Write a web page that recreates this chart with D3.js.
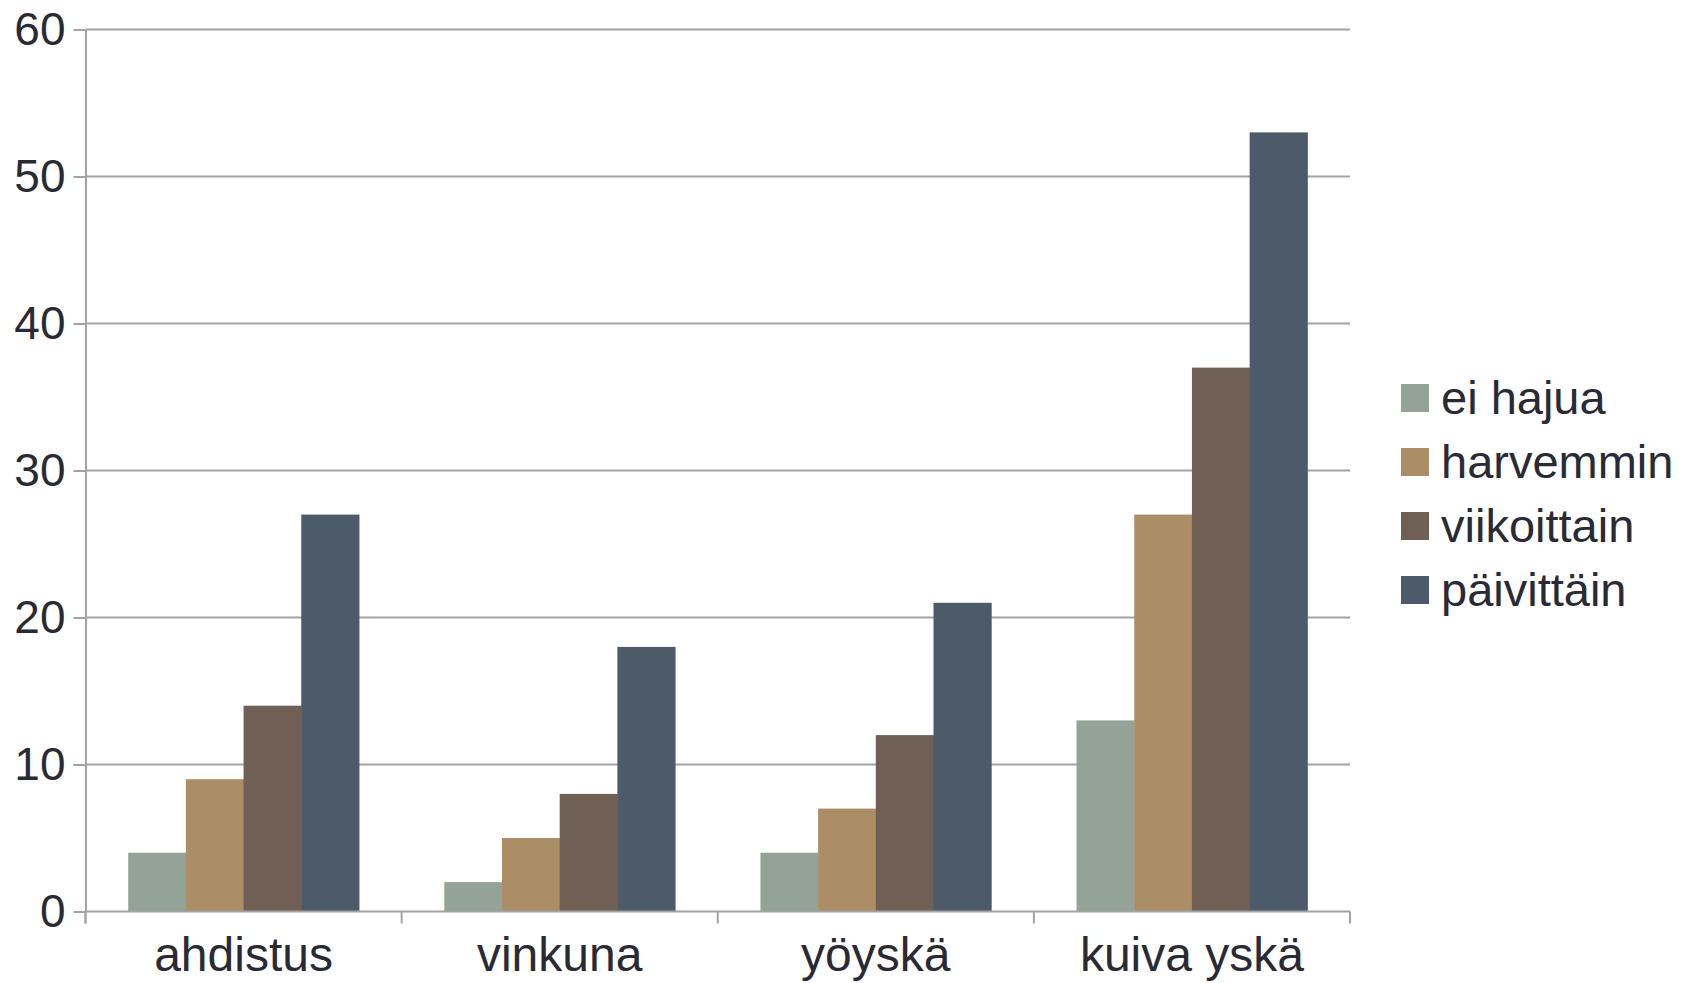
<!DOCTYPE html>
<html>
<head>
    <title>Oireet</title>
</head>
<meta charset="utf-8">
<style>
body {
    margin: 0;
    background: #fff;
    font-family: "Liberation Sans", Arial, sans-serif;
}

.grid line,
.axis path,
.axis line {
    fill: none;
    stroke: #a3a3a3;
    stroke-width: 2px;
}

.axis text,
.legend text {
    fill: #2a2a34;
    font-size: 46px;
}

.axis text.xlabel {
    font-size: 48px;
}

.legend text {
    font-size: 47px;
}
</style>
<body>
    <script src="https://cdn.jsdelivr.net/npm/d3@7"></script>
    <script>
    // data
    var categories = ["ahdistus", "vinkuna", "yöyskä", "kuiva yskä"];
    var seriesNames = ["ei hajua", "harvemmin", "viikoittain", "päivittäin"];
    var seriesColors = ["#93a398", "#ab8d66", "#705f54", "#4d5a6a"];
    var eiHajua = [4, 2, 4, 13];
    var harvemmin = [9, 5, 7, 27];
    var viikoittain = [14, 8, 12, 37];
    var paivittain = [27, 18, 21, 53];
    var yTicks = [0, 10, 20, 30, 40, 50, 60];

    var values = [eiHajua, harvemmin, viikoittain, paivittain];

    var width = 1691, height = 983;
    var plot = {left: 85.5, right: 1350, top: 29.5, bottom: 911.5};

    var svg = d3.select("body").append("svg")
        .attr("width", width)
        .attr("height", height);

    var x0 = d3.scaleBand()
        .domain(categories)
        .range([plot.left, plot.right])
        .padding(0);

    var x1 = d3.scaleBand()
        .domain(seriesNames)
        .range([0, x0.bandwidth()])
        .paddingInner(0)
        .paddingOuter(0.74);

    var y = d3.scaleLinear()
        .domain([0, 60])
        .range([plot.bottom, plot.top]);

    // horizontal gridlines
    svg.append("g")
        .attr("class", "grid")
        .selectAll("line")
        .data(yTicks.filter(function(d) { return d > 0; }))
        .enter().append("line")
        .attr("x1", plot.left)
        .attr("x2", plot.right)
        .attr("y1", function(d) { return y(d); })
        .attr("y2", function(d) { return y(d); });

    // bars
    var groups = svg.selectAll(".group")
        .data(categories)
        .enter().append("g")
        .attr("class", "group")
        .attr("transform", function(d) { return "translate(" + x0(d) + ",0)"; });

    groups.selectAll("rect")
        .data(function(d, i) {
            return seriesNames.map(function(s, j) {
                return {series: s, value: values[j][i], color: seriesColors[j]};
            });
        })
        .enter().append("rect")
        .attr("x", function(d) { return x1(d.series); })
        .attr("width", x1.bandwidth() + 0.5)
        .attr("y", function(d) { return y(d.value); })
        .attr("height", function(d) { return y(0) - y(d.value); })
        .style("fill", function(d) { return d.color; });

    // y axis
    var yAxis = d3.axisLeft(y)
        .tickValues(yTicks)
        .tickSize(12)
        .tickPadding(8)
        .tickSizeOuter(0);

    svg.append("g")
        .attr("class", "y axis")
        .attr("transform", "translate(" + plot.left + ",0)")
        .call(yAxis);

    // extend y axis a bit below zero like the original
    svg.append("line")
        .attr("class", "axisExt")
        .attr("x1", plot.left).attr("x2", plot.left)
        .attr("y1", plot.bottom).attr("y2", plot.bottom + 12)
        .style("stroke", "#a3a3a3")
        .style("stroke-width", "2px");

    // x axis: ticks at band boundaries, labels at centres
    var xAxisG = svg.append("g")
        .attr("class", "x axis");

    xAxisG.append("line")
        .attr("x1", plot.left)
        .attr("x2", plot.right)
        .attr("y1", plot.bottom)
        .attr("y2", plot.bottom);

    var bounds = categories.map(function(c) { return x0(c); }).concat([plot.right]);
    xAxisG.selectAll(".xtick")
        .data(bounds)
        .enter().append("line")
        .attr("class", "xtick")
        .attr("x1", function(d) { return d; })
        .attr("x2", function(d) { return d; })
        .attr("y1", plot.bottom)
        .attr("y2", plot.bottom + 12);

    xAxisG.selectAll(".xlabel")
        .data(categories)
        .enter().append("text")
        .attr("class", "xlabel")
        .attr("x", function(d) { return x0(d) + x0.bandwidth() / 2; })
        .attr("y", 971)
        .style("text-anchor", "middle")
        .text(function(d) { return d; });

    // legend
    var legend = svg.selectAll(".legend")
        .data(seriesNames)
        .enter().append("g")
        .attr("class", "legend")
        .attr("transform", function(d, i) { return "translate(1401," + (384 + i * 64) + ")"; });

    legend.append("rect")
        .attr("width", 28)
        .attr("height", 28)
        .style("fill", function(d, i) { return seriesColors[i]; });

    legend.append("text")
        .attr("x", 40)
        .attr("y", 14)
        .attr("dy", ".35em")
        .text(function(d) { return d; });
    </script>
</body>
</html>
